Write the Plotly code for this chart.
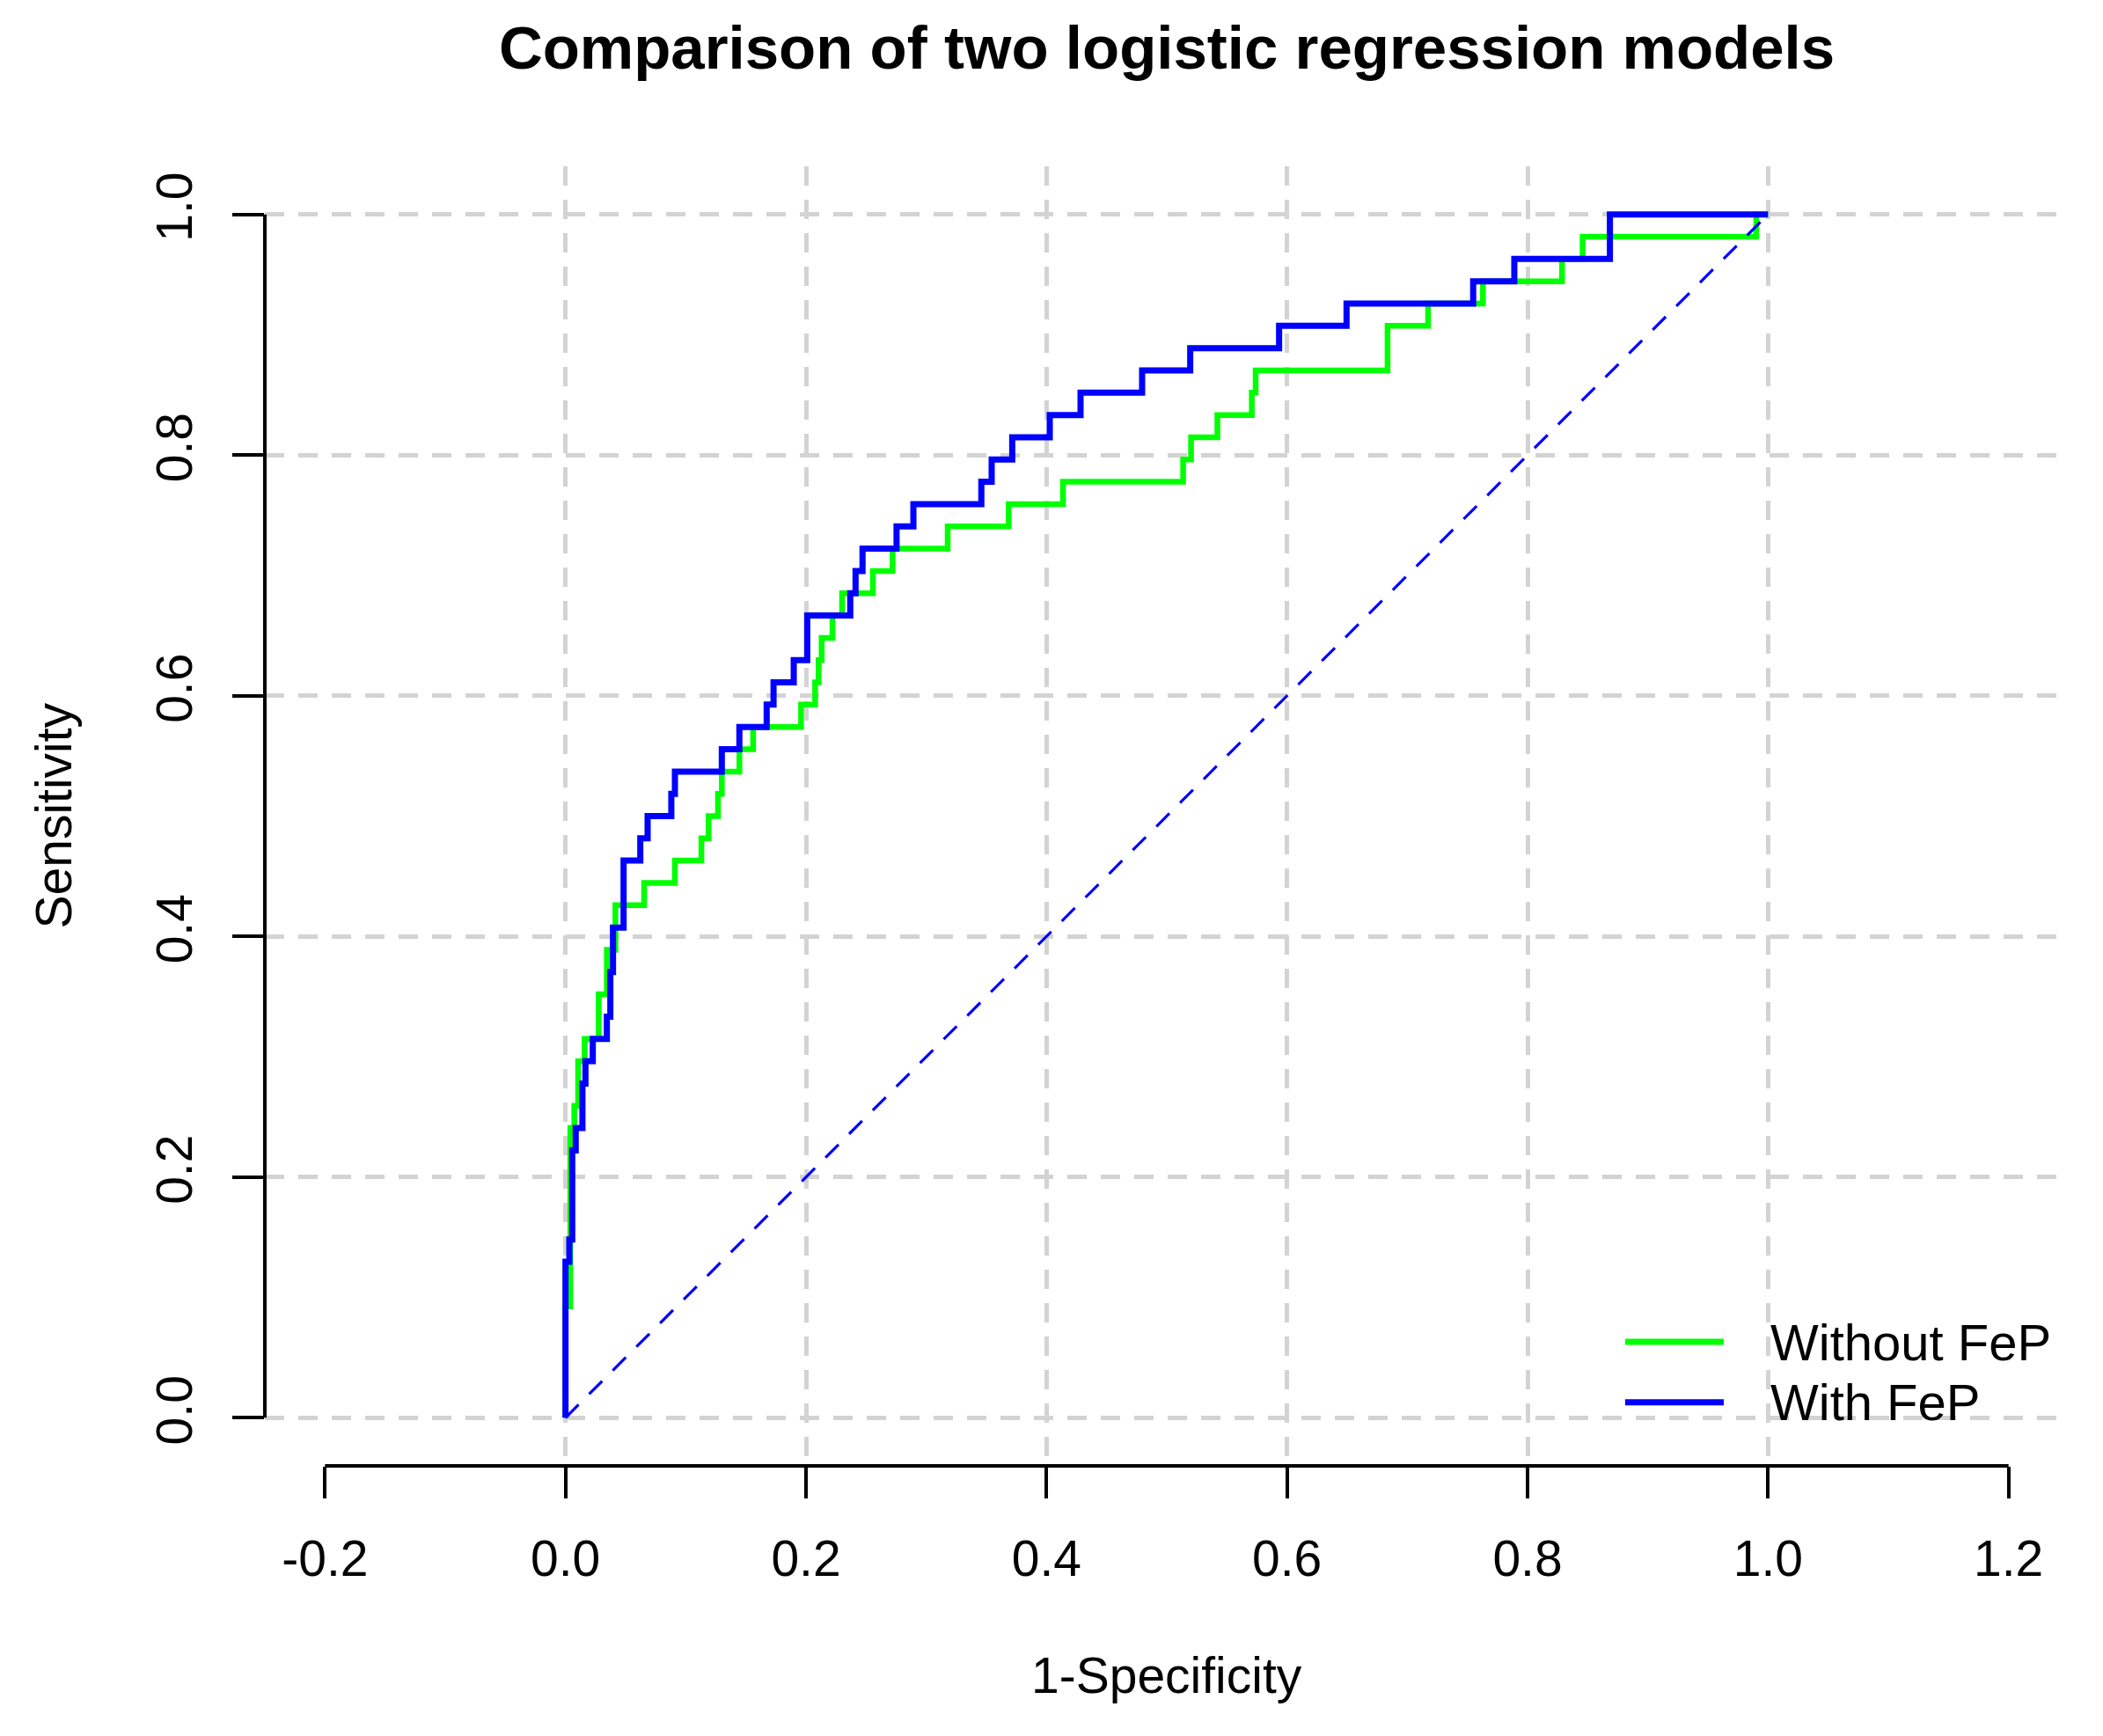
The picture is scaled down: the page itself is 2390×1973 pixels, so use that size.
import plotly.graph_objects as go

# ---- data (corner points of the ROC step curves) ----
fpr_without = [0.0, 0.0, 0.004, 0.0073, 0.0105, 0.0159, 0.0276, 0.0344, 0.0415, 0.0654,
               0.091, 0.113, 0.119, 0.1268, 0.130, 0.1446, 0.156, 0.1959, 0.2076, 0.2105,
               0.213, 0.222, 0.230, 0.2556, 0.272, 0.3178, 0.3685, 0.4137, 0.5136, 0.5202,
               0.5421, 0.5707, 0.5739, 0.6836, 0.7173, 0.7629, 0.8287, 0.8458, 0.9902, 1.0]
sens_without = [0.0, 0.0926, 0.2407, 0.2593, 0.2963, 0.3148, 0.3519, 0.3889, 0.4259, 0.4444,
                0.4630, 0.4815, 0.5000, 0.5185, 0.5370, 0.5556, 0.5741, 0.5926, 0.6111, 0.6296,
                0.6481, 0.6667, 0.6852, 0.7037, 0.7222, 0.7407, 0.7593, 0.7778, 0.7963, 0.8148,
                0.8333, 0.8519, 0.8704, 0.9074, 0.9259, 0.9444, 0.9630, 0.9815, 1.0, 1.0]

fpr_with = [0.0, 0.0, 0.0032, 0.0056, 0.0085, 0.0141, 0.0166, 0.0227, 0.0344, 0.0373,
            0.0395, 0.0483, 0.0622, 0.0683, 0.088, 0.091, 0.130, 0.1446, 0.1673, 0.173,
            0.1898, 0.201, 0.2368, 0.2412, 0.247, 0.2753, 0.2893, 0.3458, 0.3544, 0.3715,
            0.4027, 0.4283, 0.4795, 0.5195, 0.5934, 0.6495, 0.7548, 0.789, 0.8685, 1.0]
sens_with = [0.0, 0.1296, 0.1481, 0.2222, 0.2407, 0.2778, 0.2963, 0.3148, 0.3333, 0.3704,
             0.4074, 0.4630, 0.4815, 0.5000, 0.5185, 0.5370, 0.5556, 0.5741, 0.5926, 0.6111,
             0.6296, 0.6667, 0.6852, 0.7037, 0.7222, 0.7407, 0.7593, 0.7778, 0.7963, 0.8148,
             0.8333, 0.8519, 0.8704, 0.8889, 0.9074, 0.9259, 0.9444, 0.9630, 1.0, 1.0]

ref_x = [0.0, 1.0]
ref_y = [0.0, 1.0]

x_ticks = [-0.2, 0.0, 0.2, 0.4, 0.6, 0.8, 1.0, 1.2]
x_ticklabels = ["-0.2", "0.0", "0.2", "0.4", "0.6", "0.8", "1.0", "1.2"]
y_ticks = [0.0, 0.2, 0.4, 0.6, 0.8, 1.0]
y_ticklabels = ["0.0", "0.2", "0.4", "0.6", "0.8", "1.0"]
grid_x = [0.0, 0.2, 0.4, 0.6, 0.8, 1.0]

series_names = ["Without FeP", "With FeP"]
series_colors = ["#00FF00", "#0000FF"]

FONT = "Liberation Sans, Arial, sans-serif"
GRID = "#D3D3D3"

fig = go.Figure()
fig.add_trace(go.Scatter(x=fpr_without, y=sens_without, mode="lines", name=series_names[0],
                         line=dict(color=series_colors[0], width=6.5, shape="hv"), showlegend=False))
fig.add_trace(go.Scatter(x=fpr_with, y=sens_with, mode="lines", name=series_names[1],
                         line=dict(color=series_colors[1], width=7, shape="hv"), showlegend=False))
fig.add_trace(go.Scatter(x=ref_x, y=ref_y, mode="lines", name="reference",
                         line=dict(color="#0000FF", width=3.2, dash="21px,17px"), showlegend=False))

fig.update_layout(
    width=2382, height=1965,
    margin=dict(l=293, r=39, t=181, b=307, autoexpand=False),
    paper_bgcolor="white", plot_bgcolor="white",
    font=dict(family=FONT, size=57, color="black"),
    title=dict(text="Comparison of two logistic regression models",
               font=dict(family=FONT, size=69, color="black", weight="bold"),
               x=0.5, xref="paper", xanchor="center",
               y=1 - 46 / 1965, yref="container", yanchor="middle"),
    xaxis=dict(range=[-0.25, 1.25], tickmode="array", tickvals=x_ticks, ticktext=x_ticklabels,
               showgrid=False, zeroline=False, showline=False,
               ticks="outside", ticklen=36, tickwidth=4, tickcolor="black",
               ticklabelstandoff=20,
               minor=dict(tickmode="array", tickvals=grid_x, showgrid=True, gridcolor=GRID,
                          gridwidth=4.5, griddash="22px,16px", ticks=""),
               tickfont=dict(family=FONT, size=57, color="black")),
    yaxis=dict(range=[-0.04, 1.04], tickmode="array", tickvals=y_ticks, ticktext=y_ticklabels,
               showgrid=True, gridcolor=GRID, gridwidth=4.5, griddash="22px,16px",
               zeroline=False, showline=False, tickangle=-90,
               ticks="outside", ticklen=36, tickwidth=4, tickcolor="black",
               ticklabelstandoff=23,
               tickfont=dict(family=FONT, size=57, color="black")),
)

# R-style axis lines spanning only the tick range
fig.add_shape(type="line", xref="x", yref="paper", x0=x_ticks[0], x1=x_ticks[-1], y0=0, y1=0,
              line=dict(color="black", width=4))
fig.add_shape(type="line", xref="paper", yref="y", x0=0, x1=0, y0=y_ticks[0], y1=y_ticks[-1],
              line=dict(color="black", width=4))

# axis titles
fig.add_annotation(text="1-Specificity", xref="paper", yref="paper", x=0.5, y=0,
                   xanchor="center", yanchor="middle", yshift=-238, showarrow=False,
                   font=dict(family=FONT, size=57, color="black"))
fig.add_annotation(text="Sensitivity", xref="paper", yref="paper", x=0, y=0.5,
                   xanchor="center", yanchor="middle", xshift=-241, textangle=-90, showarrow=False,
                   font=dict(family=FONT, size=57, color="black"))

# legend (bottom-right, R style)
leg_x0, leg_x1, leg_tx = 0.7541, 0.8088, 0.8337
leg_y = [0.0954, 0.0489]
for name, col, yy in zip(series_names, series_colors, leg_y):
    fig.add_shape(type="line", xref="paper", yref="paper", x0=leg_x0, x1=leg_x1, y0=yy, y1=yy,
                  line=dict(color=col, width=7))
    fig.add_annotation(text=name, xref="paper", yref="paper", x=leg_tx, y=yy,
                       xanchor="left", yanchor="middle", showarrow=False,
                       font=dict(family=FONT, size=58, color="black"))

fig.write_html("out.html")
